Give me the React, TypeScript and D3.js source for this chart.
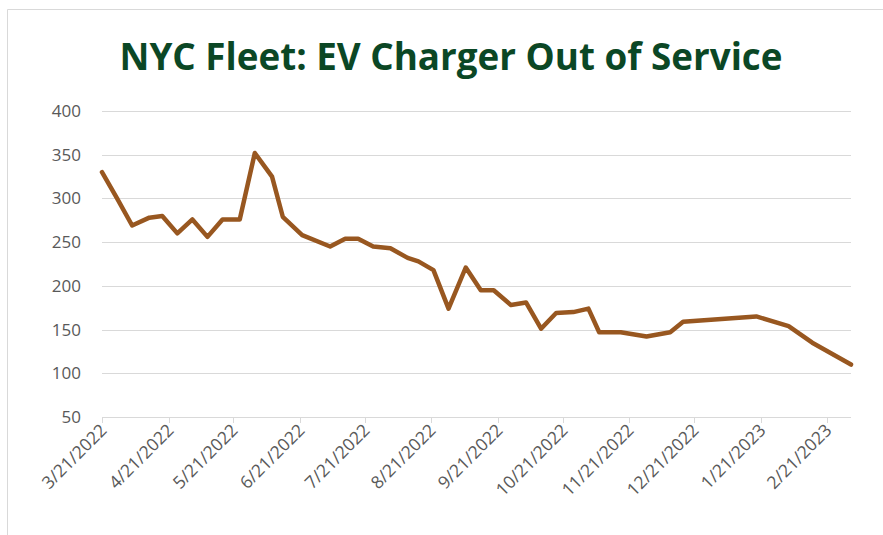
import * as d3 from 'd3';

// weekly-ish readings of chargers out of service
const dates = [
  '2022-03-21', '2022-03-28', '2022-04-04', '2022-04-12', '2022-04-18',
  '2022-04-25', '2022-05-02', '2022-05-09', '2022-05-16', '2022-05-24',
  '2022-05-31', '2022-06-08', '2022-06-13', '2022-06-22', '2022-07-05',
  '2022-07-12', '2022-07-18', '2022-07-25', '2022-08-02', '2022-08-10',
  '2022-08-15', '2022-08-22', '2022-08-29', '2022-09-06', '2022-09-13',
  '2022-09-19', '2022-09-27', '2022-10-04', '2022-10-11', '2022-10-18',
  '2022-10-26', '2022-11-02', '2022-11-07', '2022-11-17', '2022-11-29',
  '2022-12-10', '2022-12-16', '2023-01-19', '2023-02-03', '2023-02-14',
  '2023-03-04',
];
const outOfService = [
  330, 300, 269, 278, 280,
  260, 276, 256, 276, 276,
  352, 325, 279, 258, 245,
  254, 254, 245, 243, 232,
  228, 218, 174, 221, 195,
  195, 178, 181, 151, 169,
  170, 174, 147, 147, 142,
  147, 159, 165, 154, 135,
  110,
];
const xTickLabels = [
  '3/21/2022', '4/21/2022', '5/21/2022', '6/21/2022', '7/21/2022', '8/21/2022',
  '9/21/2022', '10/21/2022', '11/21/2022', '12/21/2022', '1/21/2023', '2/21/2023',
];
const yDomain = [50, 400];

const width = 883, height = 535;
const margin = { top: 111, right: 32, bottom: 118, left: 102 };
const font = '"Open Sans", Calibri, sans-serif';

export default function App() {
  const parse = d3.timeParse('%Y-%m-%d');
  const parseTick = d3.timeParse('%m/%d/%Y');
  const data = dates.map((d, i) => ({ date: parse(d) as Date, value: outOfService[i] }));

  const x = d3.scaleTime()
    .domain(d3.extent(data, d => d.date) as [Date, Date])
    .range([margin.left, width - margin.right]);
  const y = d3.scaleLinear()
    .domain(yDomain)
    .range([height - margin.bottom, margin.top]);

  const line = d3.line<{ date: Date; value: number }>()
    .x(d => x(d.date))
    .y(d => y(d.value));

  const yTicks = y.ticks(7);
  const x0 = x.range()[0], x1 = x.range()[1];

  return (
    <svg width={width} height={height}
      style={{ position: 'absolute', left: 0, top: 0, background: '#fff', fontFamily: font }}>
      <line x1={7.5} y1={9.5} x2={width} y2={9.5} stroke="#d9d9d9" />
      <line x1={7.5} y1={9.5} x2={7.5} y2={height} stroke="#d9d9d9" />

      <text x={451} y={70} textAnchor="middle" fontSize={38} fontWeight="bold"
        fill="#0b4725" textLength={663} lengthAdjust="spacingAndGlyphs">
        NYC Fleet: EV Charger Out of Service
      </text>

      {yTicks.map(t => (
        <g key={t}>
          <line x1={x0} x2={x1} y1={Math.round(y(t)) + 0.5} y2={Math.round(y(t)) + 0.5}
            stroke="#d9d9d9" strokeWidth={1} />
          <text x={81} y={y(t)} dy="0.35em" textAnchor="end" fontSize={17} fill="#595959">{t}</text>
        </g>
      ))}

      {xTickLabels.map(lbl => {
        const tx = Math.round(x(parseTick(lbl) as Date)) + 0.5;
        return (
          <g key={lbl}>
            <line x1={tx} x2={tx} y1={y(50)} y2={y(50) + 6} stroke="#d9d9d9" />
            <text transform={`translate(${tx + 1},${y(50) + 10}) rotate(-45)`}
              textAnchor="end" dy="0.35em" fontSize={17.5} fill="#595959">{lbl}</text>
          </g>
        );
      })}

      <path d={line(data) ?? ''} fill="none" stroke="#985720" strokeWidth={4.5}
        strokeLinejoin="round" strokeLinecap="round" />
    </svg>
  );
}
